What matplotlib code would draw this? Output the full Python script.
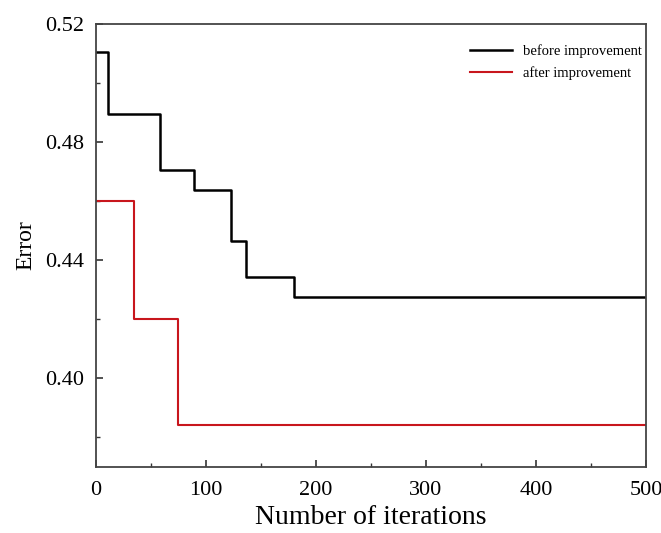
import matplotlib.pyplot as plt
from matplotlib.ticker import MultipleLocator

# step change points
before_iter = [0, 11, 58, 89, 123, 137, 180, 500]
before_err = [0.5105, 0.4895, 0.4705, 0.4637, 0.4465, 0.4343, 0.4275, 0.4275]
after_iter = [0, 35, 75, 500]
after_err = [0.460, 0.420, 0.384, 0.384]

plt.rcParams['font.family'] = ['Liberation Serif', 'DejaVu Serif']

fig = plt.figure(figsize=(6.61, 5.33), dpi=100)
ax = fig.add_axes([0.1448, 0.1244, 0.8325, 0.8306])

ax.step(before_iter, before_err, where='post', color='black', lw=1.8, label='before improvement')
ax.step(after_iter, after_err, where='post', color='#c8161d', lw=1.5, label='after improvement')

ax.set_xlim(0, 500)
ax.set_ylim(0.37, 0.52)
ax.xaxis.set_major_locator(MultipleLocator(100))
ax.xaxis.set_minor_locator(MultipleLocator(50))
ax.yaxis.set_minor_locator(MultipleLocator(0.02))
ax.set_yticks([0.40, 0.44, 0.48, 0.52])
ax.set_yticklabels(['0.40', '0.44', '0.48', '0.52'])

ax.tick_params(which='both', direction='in', top=False, right=False, labelsize=16, color='#333')
ax.tick_params(axis='x', pad=10)
ax.tick_params(axis='y', pad=8)
ax.tick_params(which='major', length=5, width=1.2)
ax.tick_params(which='minor', length=3, width=1)

for s in ax.spines.values():
    s.set_color('#444')
    s.set_linewidth(1.3)

ax.set_xlabel('Number of iterations', fontsize=20, labelpad=4)
ax.set_ylabel('Error', fontsize=17, labelpad=7)

ax.legend(loc='upper left', bbox_to_anchor=(0.711, 0.9174), bbox_transform=fig.transFigure,
          frameon=False, fontsize=10.5, handlelength=2.9, handletextpad=0.75,
          borderpad=0, borderaxespad=0, labelspacing=0.55)

fig.savefig('out.png', dpi=100)
